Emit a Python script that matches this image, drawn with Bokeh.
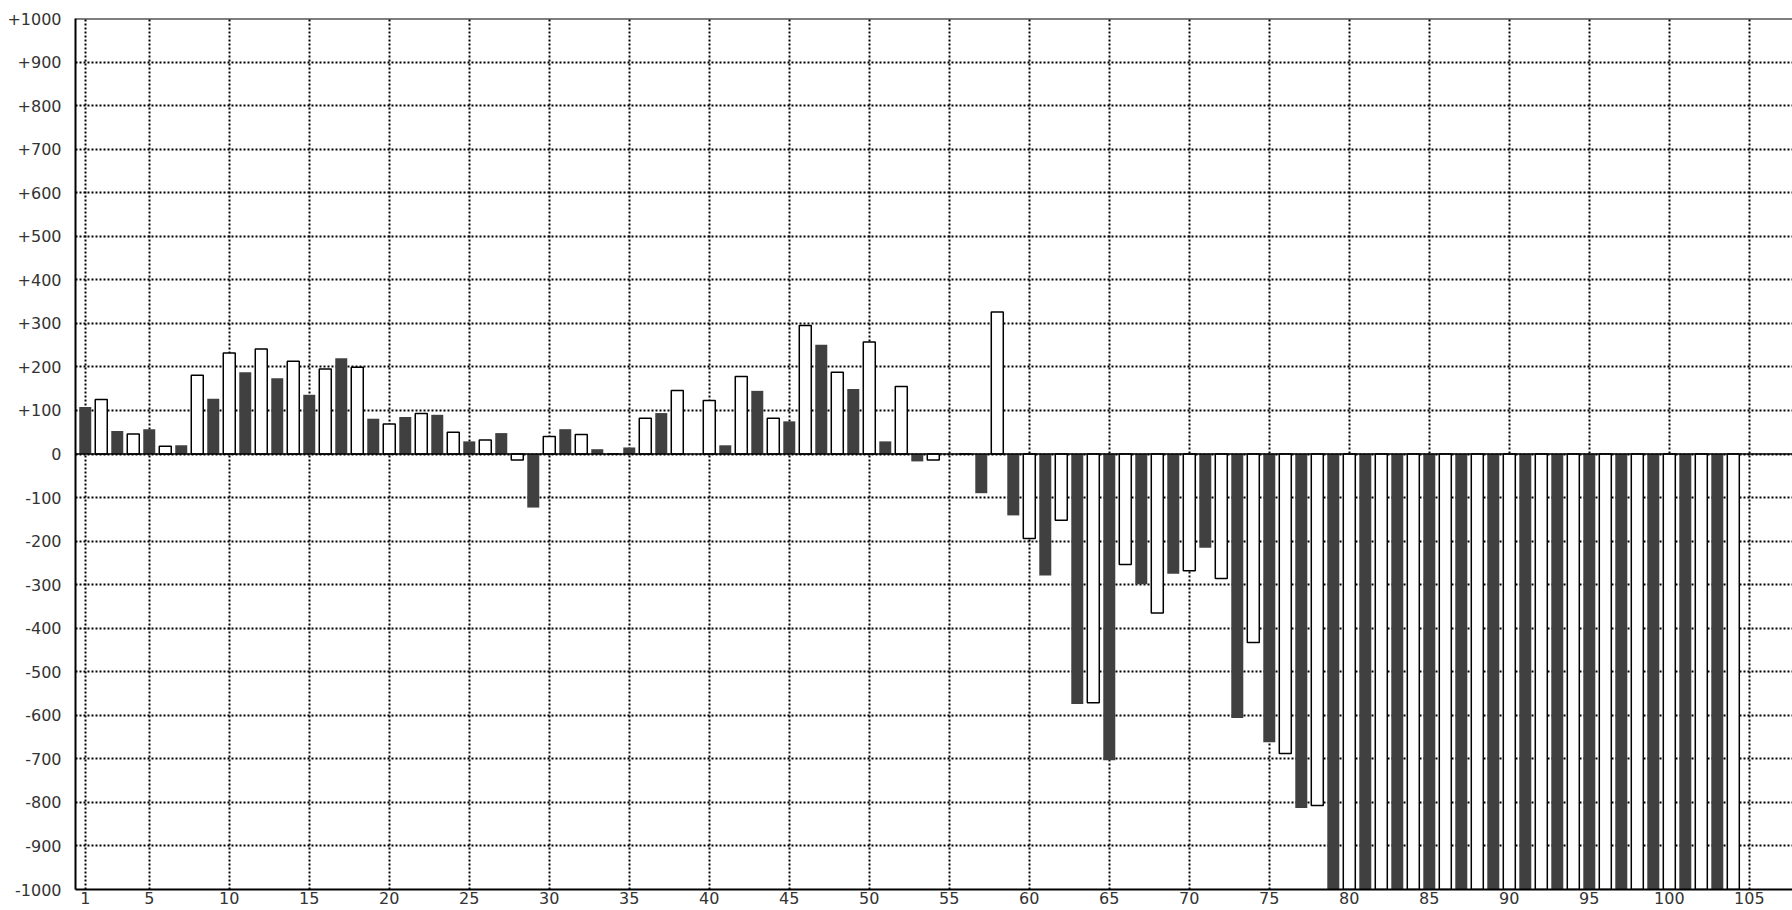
from bokeh.plotting import figure
from bokeh.models import FixedTicker, Span, Range1d
from bokeh.embed import file_html
from bokeh.resources import INLINE

# ---- data ----
dark_x = list(range(1, 104, 2))
dark_vals = [108, 53, 57, 20, 127, 188, 174, 136, 220, 81,
             85, 90, 29, 48, -123, 57, 11, 15, 94, 0,
             20, 145, 75, 251, 149, 29, -17, 0, -90, -141,
             -279, -574, -703, -299, -275, -215, -606, -662, -813,
             -1000, -1000, -1000, -1000, -1000, -1000, -1000, -1000,
             -1000, -1000, -1000, -1000, -1000]

light_x = list(range(2, 105, 2))
light_vals = [125, 46, 18, 181, 232, 241, 213, 195, 199, 69,
              93, 50, 32, -14, 40, 45, 0, 82, 146, 123,
              178, 82, 295, 188, 257, 155, -14, 0, 326, -194,
              -152, -571, -254, -365, -268, -286, -433, -688, -807,
              -1000, -1000, -1000, -1000, -1000, -1000, -1000, -1000,
              -1000, -1000, -1000, -1000, -1000]

x_ticks = [1, 5, 10, 15, 20, 25, 30, 35, 40, 45, 50, 55, 60, 65, 70, 75,
           80, 85, 90, 95, 100, 105]
y_ticks = [1000, 900, 800, 700, 600, 500, 400, 300, 200, 100, 0,
           -100, -200, -300, -400, -500, -600, -700, -800, -900, -1000]
y_tick_labels = ["+1000", "+900", "+800", "+700", "+600", "+500", "+400",
                 "+300", "+200", "+100", "0", "-100", "-200", "-300", "-400",
                 "-500", "-600", "-700", "-800", "-900", "-1000"]

FONT = "DejaVu Sans"

p = figure(width=1792, height=910,
           x_range=Range1d(0.39, 107.7), y_range=Range1d(-1000, 1000),
           output_backend="svg", toolbar_location=None,
           min_border_left=75, min_border_top=18, min_border_right=0,
           min_border_bottom=21)
p.outline_line_color = None
p.background_fill_color = "white"
p.border_fill_color = "white"

p.vbar(x=dark_x, top=dark_vals, bottom=0, width=0.75,
       fill_color="#404040", line_color=None)
p.vbar(x=light_x, top=light_vals, bottom=0, width=0.75,
       fill_color="white", line_color="black", line_width=1.5)

# zero line and top border
p.add_layout(Span(location=0, dimension="width", line_color="black", line_width=1.5))
p.add_layout(Span(location=1000, dimension="width", line_color="black", line_width=2))

# axes
p.xaxis.ticker = FixedTicker(ticks=x_ticks)
p.yaxis.ticker = FixedTicker(ticks=y_ticks)
p.yaxis.major_label_overrides = {t: s for t, s in zip(y_ticks, y_tick_labels)}
for ax in (p.xaxis[0], p.yaxis[0]):
    ax.axis_line_color = "black"
    ax.axis_line_width = 2
    ax.major_tick_line_color = None
    ax.minor_tick_line_color = None
    ax.major_tick_out = 0
    ax.major_tick_in = 0
    ax.major_label_text_font = FONT
    ax.major_label_text_font_size = "16px"
    ax.major_label_text_color = "#333333"
p.xaxis.major_label_standoff = 2
p.yaxis.major_label_standoff = 14

# grids
for g in (p.xgrid[0], p.ygrid[0]):
    g.grid_line_color = "black"
    g.grid_line_dash = "2 2"
    g.grid_line_width = 2
    g.grid_line_alpha = 1.0

open("out.html", "w").write(file_html(p, INLINE))
